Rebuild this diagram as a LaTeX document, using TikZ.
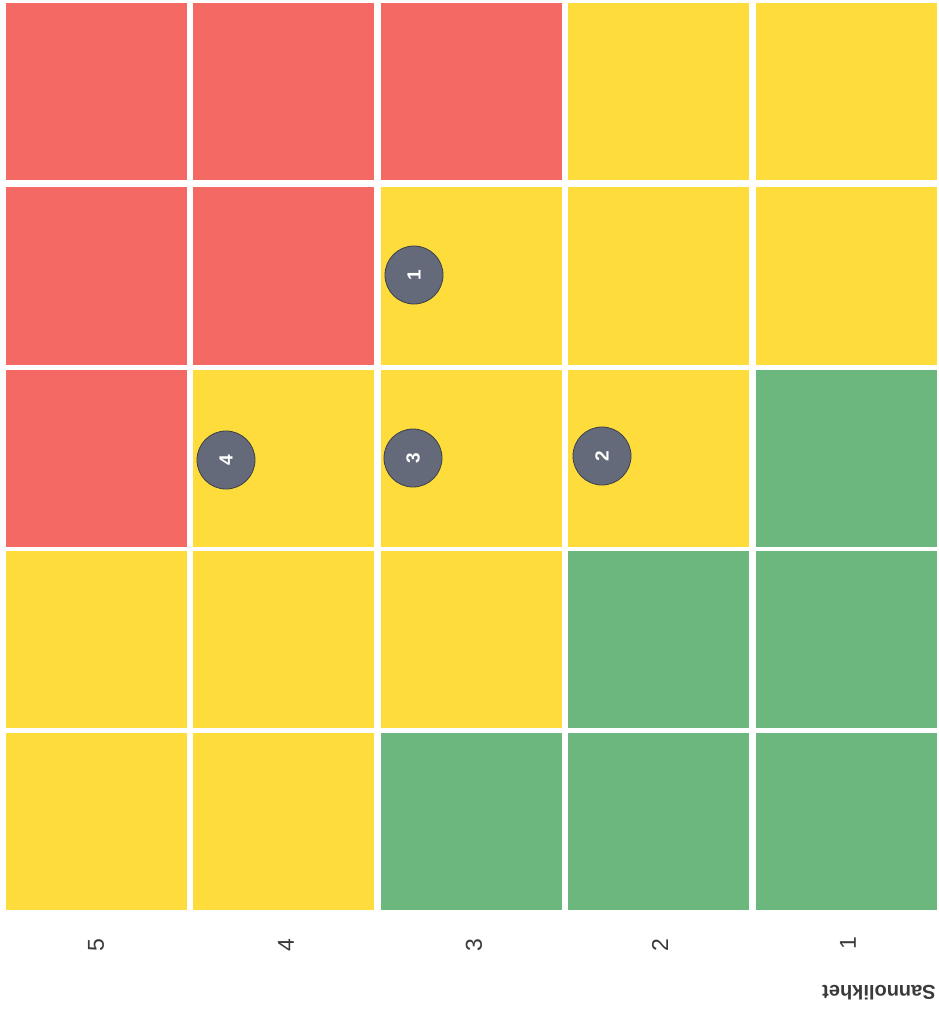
\documentclass[tikz,border=0pt]{standalone}
\usepackage{fontspec}
\setmainfont{Liberation Sans}
\definecolor{rred}{HTML}{F56964}
\definecolor{ryel}{HTML}{FDDC3C}
\definecolor{rgrn}{HTML}{6CB77D}
\definecolor{rdot}{HTML}{646A7A}
\definecolor{rdotb}{HTML}{3C4048}
\definecolor{rtxt}{HTML}{3A3A3A}
\begin{document}
\begin{tikzpicture}[x=1pt,y=-1pt,
  cell/.style={minimum width=181pt,minimum height=177pt,inner sep=0pt,draw=none},
  marker/.style={circle,fill=rdot,draw=rdotb,line width=0.8pt,minimum size=58pt,inner sep=0pt,
     text=white,font=\fontsize{19}{19}\selectfont\bfseries,rotate=90},
  axlab/.style={text=rtxt,font=\fontsize{23}{23}\selectfont,rotate=90,inner sep=0pt},
  ttl/.style={text=rtxt,font=\fontsize{20}{20}\selectfont\bfseries,rotate=180,inner sep=0pt}]
\fill[white] (0,0) rectangle (938,1011);
\useasboundingbox (0,0) rectangle (938,1011);
% row 1
\node[cell,fill=rred] (c11) at (96,92) {};
\node[cell,fill=rred] (c12) at (283.6,92) {};
\node[cell,fill=rred] (c13) at (471.2,92) {};
\node[cell,fill=ryel] (c14) at (658.8,92) {};
\node[cell,fill=ryel] (c15) at (846.4,92) {};
% row 2
\node[cell,fill=rred] (c21) at (96,276) {};
\node[cell,fill=rred] (c22) at (283.6,276) {};
\node[cell,fill=ryel] (c23) at (471.2,276) {};
\node[cell,fill=ryel] (c24) at (658.8,276) {};
\node[cell,fill=ryel] (c25) at (846.4,276) {};
% row 3
\node[cell,fill=rred] (c31) at (96,458) {};
\node[cell,fill=ryel] (c32) at (283.6,458) {};
\node[cell,fill=ryel] (c33) at (471.2,458) {};
\node[cell,fill=ryel] (c34) at (658.8,458) {};
\node[cell,fill=rgrn] (c35) at (846.4,458) {};
% row 4
\node[cell,fill=ryel] (c41) at (96,639) {};
\node[cell,fill=ryel] (c42) at (283.6,639) {};
\node[cell,fill=ryel] (c43) at (471.2,639) {};
\node[cell,fill=rgrn] (c44) at (658.8,639) {};
\node[cell,fill=rgrn] (c45) at (846.4,639) {};
% row 5
\node[cell,fill=ryel] (c51) at (96,821) {};
\node[cell,fill=ryel] (c52) at (283.6,821) {};
\node[cell,fill=rgrn] (c53) at (471.2,821) {};
\node[cell,fill=rgrn] (c54) at (658.8,821) {};
\node[cell,fill=rgrn] (c55) at (846.4,821) {};
% markers
\node[marker] (m1) at (414,275) {1};
\node[marker] (m4) at (226,460) {4};
\node[marker] (m3) at (413,458) {3};
\node[marker] (m2) at (602,456) {2};
% axis labels
\node[axlab] (l5) at (96,945) {5};
\node[axlab] (l4) at (286,945) {4};
\node[axlab] (l3) at (474,945) {3};
\node[axlab] (l2) at (660,945) {2};
\node[axlab] (l1) at (848,943) {1};
\node[ttl] (t) at (879,993) {Sannolikhet};
\end{tikzpicture}
\end{document}
